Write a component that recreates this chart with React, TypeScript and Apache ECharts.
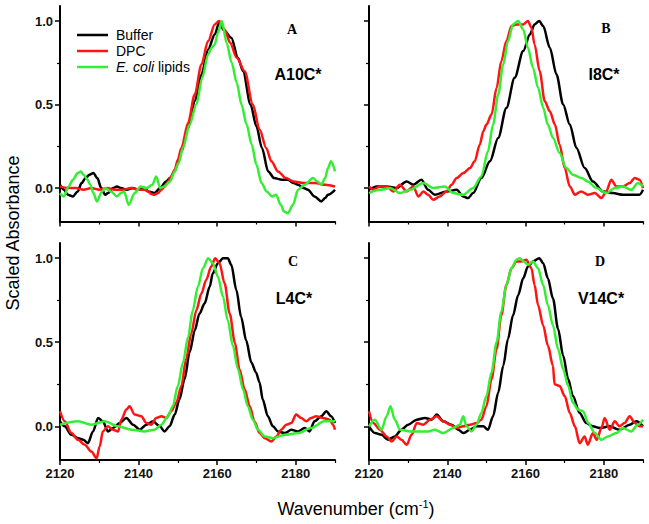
import React, { useEffect, useRef } from "react";
import * as echarts from "echarts";

// ---------- data (wavenumber, scaled absorbance) ----------
const aBuffer = [[2120,0.02],[2121,-0.01],[2122,-0.04],[2123.3,-0.05],[2124.5,-0.02],[2125.5,0.03],[2126.5,0.06],[2127.5,0.08],[2128.5,0.09],[2129.5,0.06],[2130.5,0.0],[2131.5,-0.04],[2132.2,-0.03],[2133.5,0.0],[2134.5,0.01],[2135.5,0.0],[2137,-0.01],[2138.5,0.0],[2140,-0.01],[2141.5,0.0],[2142.5,-0.02],[2144,-0.03],[2145.5,0.0],[2147,0.04],[2148,0.06],[2149.2,0.1],[2150,0.15],[2150.9,0.22],[2152.6,0.36],[2154.3,0.52],[2156,0.68],[2157.7,0.83],[2159.4,0.92],[2160.5,0.99],[2161.2,0.96],[2161.9,0.94],[2163.6,0.9],[2165.3,0.78],[2166.6,0.7],[2168.5,0.5],[2170,0.37],[2171.4,0.24],[2173,0.1],[2174.5,0.06],[2176.5,0.05],[2178,0.05],[2179.5,0.03],[2180.6,0.02],[2182,0.0],[2183.1,-0.01],[2184.8,-0.05],[2186.5,-0.08],[2187.5,-0.06],[2188.2,-0.04],[2190,-0.01]];
const aDPC = [[2120,0.01],[2122,0.0],[2124,0.0],[2126,-0.01],[2128,0.0],[2130,-0.01],[2132,0.0],[2134,-0.01],[2136,-0.01],[2138,0.0],[2140,-0.01],[2141.5,-0.01],[2142.4,-0.02],[2143.2,-0.035],[2144,-0.04],[2145,-0.03],[2145.8,-0.01],[2146.7,0.01],[2147.5,0.04],[2148.3,0.07],[2149.2,0.11],[2150,0.17],[2150.9,0.24],[2152.6,0.39],[2154.3,0.56],[2156,0.74],[2157.7,0.88],[2159.4,0.98],[2160.5,1.0],[2161.9,0.95],[2163.3,0.87],[2165,0.78],[2167,0.7],[2169.1,0.5],[2170.8,0.35],[2172.5,0.24],[2173.8,0.16],[2175.5,0.1],[2177.5,0.06],[2179.5,0.04],[2182,0.03],[2185,0.03],[2187.5,0.02],[2190,0.01]];
const aEcoli = [[2120,-0.03],[2121,-0.05],[2122.2,0.01],[2123.3,0.05],[2124.5,0.09],[2125.3,0.1],[2126,0.08],[2127,0.05],[2127.7,0.02],[2128.5,-0.03],[2129.4,-0.08],[2130.7,-0.02],[2131.5,0.0],[2133,-0.02],[2134.5,-0.05],[2135.5,-0.03],[2136.3,-0.02],[2137.5,-0.1],[2139,-0.03],[2140.5,0.01],[2142,0.0],[2143.5,0.02],[2144.5,0.07],[2145.5,0.0],[2146.5,0.01],[2148,0.04],[2149.2,0.1],[2150.2,0.15],[2151.3,0.24],[2153,0.38],[2154.7,0.5],[2156.2,0.66],[2157.7,0.8],[2158.6,0.84],[2159.4,0.86],[2160.2,0.93],[2161.2,1.0],[2162.4,0.87],[2163.7,0.75],[2165,0.63],[2166.2,0.5],[2167.5,0.38],[2168.8,0.26],[2170,0.14],[2171.3,0.03],[2172.6,-0.02],[2174,-0.05],[2175,-0.04],[2176.2,-0.1],[2177,-0.14],[2178,-0.15],[2179.3,-0.1],[2180.6,-0.01],[2182.3,0.02],[2184.4,0.06],[2185.5,0.04],[2186.5,0.02],[2187.5,0.06],[2188.2,0.12],[2189,0.16],[2190,0.1]];

const bBuffer = [[2120,-0.01],[2122,0.01],[2124.5,0.01],[2127,0.0],[2129.6,0.04],[2131.3,0.02],[2133.4,0.05],[2135.1,-0.01],[2136.8,-0.04],[2139.8,-0.02],[2142.4,-0.01],[2144.1,-0.05],[2145.3,-0.06],[2146.6,-0.03],[2148.7,0.06],[2150.9,0.16],[2153,0.3],[2155.1,0.48],[2157.2,0.66],[2159.4,0.82],[2161.1,0.92],[2162.3,0.98],[2163.5,1.0],[2164.5,0.97],[2166.2,0.84],[2167.9,0.68],[2169.6,0.5],[2171.3,0.38],[2173,0.24],[2175.1,0.12],[2177.2,0.04],[2179.8,-0.02],[2182.3,-0.03],[2184.9,-0.04],[2187.4,-0.04],[2189.1,-0.04],[2190,-0.01]];
const bDPC = [[2120,0.01],[2121.1,-0.01],[2122.8,0.01],[2124.5,0.01],[2126.2,-0.02],[2127.9,0.02],[2129.6,-0.02],[2131.3,0.01],[2132.6,-0.05],[2133.9,-0.02],[2135.1,-0.04],[2136.4,-0.07],[2138.1,-0.05],[2139.8,-0.02],[2141.1,0.02],[2142.4,0.06],[2144.1,0.09],[2145.8,0.12],[2147,0.16],[2148.3,0.26],[2149.2,0.34],[2150,0.38],[2151.3,0.44],[2152.6,0.6],[2153.8,0.76],[2155.1,0.88],[2156.4,0.97],[2157.7,0.98],[2159.4,0.98],[2160.6,1.0],[2161.5,0.96],[2162.3,0.86],[2163.6,0.7],[2164.9,0.52],[2166.2,0.46],[2167.5,0.38],[2168.7,0.26],[2170,0.12],[2171.3,0.01],[2172.6,-0.04],[2174.2,-0.02],[2175.9,-0.04],[2177.7,-0.03],[2179.4,-0.06],[2180.6,-0.02],[2181.9,0.05],[2183.2,0.01],[2184.9,0.01],[2186.6,0.03],[2187.9,0.06],[2189.1,0.05],[2190,0.0]];
const bEcoli = [[2120,-0.03],[2122.8,-0.01],[2125.4,0.0],[2127.9,-0.03],[2130.5,-0.01],[2133.9,0.03],[2136.4,0.0],[2139.4,0.01],[2141.5,-0.03],[2144.1,-0.04],[2146.6,0.0],[2148.7,0.07],[2150.4,0.22],[2151.7,0.38],[2153,0.56],[2154.3,0.74],[2155.5,0.88],[2156.8,0.98],[2158.1,1.0],[2159.4,0.95],[2160.6,0.84],[2161.9,0.72],[2163.2,0.6],[2164.5,0.48],[2165.7,0.38],[2167,0.3],[2168.7,0.21],[2170.4,0.12],[2172.1,0.08],[2174.3,0.06],[2175.9,0.04],[2178.1,0.0],[2180.6,-0.03],[2182.8,0.0],[2184.9,0.01],[2187,-0.01],[2188.7,0.03],[2190,0.01]];

const cBuffer = [[2120,0.03],[2121.2,0.0],[2122.9,-0.05],[2124.6,-0.07],[2125.9,-0.08],[2127.1,-0.1],[2128.4,-0.03],[2129.7,0.05],[2130.9,0.03],[2132.2,-0.03],[2133.5,-0.01],[2135.2,0.02],[2136.9,0.05],[2138.6,0.01],[2140.3,-0.02],[2142,0.01],[2143.7,0.03],[2145.4,0.0],[2146.6,-0.03],[2147.9,0.0],[2149.2,0.07],[2150.4,0.16],[2151.7,0.28],[2153,0.44],[2154.3,0.57],[2155.5,0.67],[2156.8,0.73],[2158.1,0.83],[2158.9,0.91],[2160.2,0.97],[2161.5,1.0],[2162.7,1.0],[2163.6,0.96],[2164.9,0.81],[2166.1,0.65],[2167.4,0.51],[2168.7,0.38],[2169.9,0.32],[2170.8,0.26],[2171.6,0.16],[2172.9,0.06],[2174.2,0.0],[2175.5,-0.03],[2177.2,-0.04],[2178.9,-0.02],[2180.6,-0.03],[2182.3,-0.01],[2183.5,-0.03],[2184.8,0.03],[2186.5,0.06],[2187.8,0.09],[2189,0.06],[2190,0.02]];
const cDPC = [[2120,0.09],[2121.2,0.03],[2122.9,-0.04],[2124.6,-0.08],[2126.3,-0.11],[2128,-0.15],[2129.3,-0.19],[2130.1,-0.12],[2130.9,-0.03],[2132.2,0.0],[2133.5,-0.02],[2134.8,-0.03],[2135.6,0.04],[2136.9,0.1],[2137.7,0.12],[2139,0.07],[2140.7,0.06],[2142,0.02],[2143.2,0.01],[2144.5,0.05],[2145.8,0.06],[2147.1,0.05],[2148.3,0.09],[2149.6,0.14],[2150.9,0.24],[2152.1,0.4],[2153.4,0.55],[2154.7,0.69],[2156,0.79],[2157.2,0.87],[2158.5,0.95],[2159.5,1.0],[2160.6,0.97],[2161.9,0.85],[2163.2,0.67],[2164.5,0.5],[2165.7,0.34],[2167,0.22],[2168.3,0.12],[2169.5,0.03],[2170.8,-0.04],[2172.1,-0.07],[2173.8,-0.09],[2175.1,-0.06],[2176.3,-0.02],[2177.6,0.01],[2178.9,0.02],[2180.1,0.07],[2181.4,0.05],[2182.7,0.03],[2183.9,0.05],[2185.2,0.06],[2186.9,0.05],[2188.6,0.04],[2189.5,0.01],[2190,-0.02]];
const cEcoli = [[2120,0.01],[2124.6,0.03],[2128,0.01],[2131.4,0.03],[2134.8,0.0],[2138.2,-0.02],[2141.5,-0.03],[2144.1,-0.02],[2145.8,0.01],[2147.5,0.06],[2148.7,0.12],[2150,0.24],[2151.3,0.38],[2152.6,0.53],[2153.8,0.69],[2155.1,0.83],[2156.4,0.94],[2157.7,1.0],[2158.9,0.97],[2160.2,0.89],[2161.5,0.77],[2162.7,0.63],[2164,0.48],[2165.3,0.34],[2166.6,0.22],[2167.8,0.12],[2169.1,0.04],[2170.4,-0.02],[2172.1,-0.06],[2174.2,-0.07],[2177.2,-0.05],[2180.6,-0.04],[2183.9,-0.01],[2187.3,0.03],[2190,0.03]];

const dBuffer = [[2120,0.0],[2121.5,-0.04],[2123.2,-0.05],[2124.9,-0.08],[2126.6,-0.06],[2128.3,-0.02],[2130,0.01],[2132.2,0.04],[2134.3,0.05],[2136,0.04],[2137.3,0.07],[2139,0.03],[2141.1,0.01],[2142.8,-0.02],[2144.1,-0.04],[2145.8,-0.02],[2147.5,0.0],[2149.2,0.0],[2150.4,-0.02],[2151.7,0.06],[2153,0.2],[2154.3,0.36],[2155.5,0.52],[2156.8,0.66],[2158.1,0.78],[2159.4,0.88],[2160.6,0.95],[2161.9,0.98],[2163.5,1.0],[2164.5,0.97],[2165.7,0.88],[2167,0.76],[2168.3,0.58],[2169.6,0.42],[2170.9,0.28],[2172.1,0.18],[2173.8,0.08],[2175.5,0.02],[2177.2,0.0],[2178.9,-0.01],[2181.5,0.0],[2184,-0.02],[2186.6,0.01],[2188.3,0.03],[2190,0.0]];
const dDPC = [[2120,0.09],[2121.1,0.02],[2122.8,-0.02],[2124.5,-0.06],[2125.8,-0.09],[2127.1,-0.06],[2128.3,-0.08],[2129.6,-0.11],[2130.9,-0.05],[2132.2,0.02],[2133.9,0.01],[2135.6,0.04],[2137.3,0.06],[2139,0.03],[2140.7,0.01],[2142.4,-0.01],[2144.1,0.0],[2145.8,0.01],[2147.5,0.02],[2148.7,0.04],[2150,0.12],[2151.3,0.28],[2152.6,0.46],[2153.8,0.66],[2155.1,0.84],[2156.4,0.94],[2157.7,0.98],[2158.9,0.98],[2160.2,0.99],[2161.5,0.94],[2162.3,0.84],[2163.2,0.72],[2164.5,0.6],[2165.7,0.48],[2167,0.36],[2167.4,0.25],[2168.7,0.24],[2170,0.18],[2171.3,0.08],[2172.6,0.0],[2173.8,-0.1],[2175.1,-0.06],[2175.9,-0.11],[2177.2,-0.04],[2178.2,-0.08],[2179.4,-0.01],[2180.2,0.05],[2181.5,-0.02],[2182.8,0.03],[2184,0.0],[2185.3,0.02],[2186.6,0.06],[2187.9,0.02],[2189.1,0.0],[2190,0.0]];
const dEcoli = [[2120,0.0],[2121.5,0.04],[2123.2,-0.02],[2124.5,0.06],[2125.5,0.12],[2126.6,0.04],[2127.9,-0.02],[2130.5,-0.03],[2133,-0.03],[2135.1,-0.03],[2136.8,-0.02],[2139,-0.04],[2141.5,-0.01],[2143.2,0.01],[2144.1,0.06],[2144.9,0.0],[2146.2,-0.03],[2147.5,0.01],[2148.7,0.08],[2150,0.18],[2151.3,0.32],[2152.6,0.5],[2153.8,0.68],[2155.1,0.84],[2156.4,0.94],[2157.7,0.99],[2158.5,1.0],[2159.5,0.98],[2160.6,0.96],[2161.9,0.98],[2163.2,0.94],[2164.5,0.84],[2165.7,0.72],[2167,0.6],[2168.3,0.46],[2169.6,0.34],[2170.9,0.24],[2172.1,0.14],[2173.4,0.1],[2174.7,0.09],[2176,0.02],[2177.7,-0.04],[2179.4,-0.08],[2181,-0.06],[2183.2,-0.04],[2184.9,-0.01],[2187,-0.03],[2188.7,0.01],[2190,0.04]];

const seriesNames = ["Buffer", "DPC", "E. coli lipids"];
const seriesColors = ["#000000", "#ff1414", "#33ee33"];
const panelLetters = ["A", "B", "C", "D"];
const panelMutants = ["A10C*", "I8C*", "L4C*", "V14C*"];
const xMajorTicks = [2120, 2140, 2160, 2180];
const xMinorTicks = [2130, 2150, 2170, 2190];
const yMajorTicks = [0, 0.5, 1.0];
const yMinorTicks = [0.25, 0.75];

const panelData = [
  [aBuffer, aDPC, aEcoli],
  [bBuffer, bDPC, bEcoli],
  [cBuffer, cDPC, cEcoli],
  [dBuffer, dDPC, dEcoli],
];

// layout
const grids = [
  { left: 60, top: 6, width: 275, height: 215.5 },
  { left: 369, top: 6, width: 274, height: 215.5 },
  { left: 60, top: 243, width: 275, height: 217 },
  { left: 369, top: 243, width: 274, height: 217 },
];
const letterPos = [[292, 29], [606, 28], [293, 261], [600, 261]];
const mutantPos = [[298, 74], [604, 74], [294, 298], [601, 298]];

const SANS = '"Liberation Sans", Arial, Helvetica, sans-serif';
const SERIF = '"Liberation Serif", "Times New Roman", serif';
// line-shaped legend icon (invisible corner points keep the 31x14 box)
const LINE_ICON = "path://M0,0 L0.01,0 M0,5.75 L31,5.75 L31,8.25 L0,8.25 Z M30.99,14 L31,14";

export default function App() {
  const ref = useRef<HTMLDivElement>(null);
  useEffect(() => {
    if (!ref.current) return;
    const chart = echarts.init(ref.current, null, { renderer: "svg" });

    const xAxis: any[] = [];
    const yAxis: any[] = [];
    const series: any[] = [];
    grids.forEach((g, i) => {
      const showX = i >= 2;
      const showY = i % 2 === 0;
      xAxis.push({
        type: "value", gridIndex: i, min: 2120, max: 2190, position: "bottom",
        axisLine: { show: true, onZero: false, lineStyle: { color: "#000", width: 2 } },
        axisTick: { show: true, customValues: xMajorTicks, length: 5, lineStyle: { color: "#000", width: 1.5 } },
        axisLabel: { show: showX, customValues: xMajorTicks, margin: 7, color: "#111", fontSize: 13, fontWeight: "bold", fontFamily: SANS, formatter: (v: number) => String(v) },
        splitLine: { show: false },
      });
      xAxis.push({
        type: "value", gridIndex: i, min: 2120, max: 2190, position: "bottom",
        axisLine: { show: false, onZero: false },
        axisTick: { show: true, customValues: xMinorTicks, length: 3, lineStyle: { color: "#000", width: 1.2 } },
        axisLabel: { show: false },
        splitLine: { show: false },
      });
      yAxis.push({
        type: "value", gridIndex: i, min: -0.2, max: 1.09, position: "left",
        axisLine: { show: true, onZero: false, lineStyle: { color: "#000", width: 2 } },
        axisTick: { show: true, customValues: yMajorTicks, length: 5, lineStyle: { color: "#000", width: 1.5 } },
        axisLabel: { show: showY, customValues: yMajorTicks, margin: 7, color: "#111", fontSize: 13, fontWeight: "bold", fontFamily: SANS, formatter: (v: number) => v.toFixed(1) },
        splitLine: { show: false },
      });
      yAxis.push({
        type: "value", gridIndex: i, min: -0.2, max: 1.09, position: "left",
        axisLine: { show: false, onZero: false },
        axisTick: { show: true, customValues: yMinorTicks, length: 3, lineStyle: { color: "#000", width: 1.2 } },
        axisLabel: { show: false },
        splitLine: { show: false },
      });
      panelData[i].forEach((d, k) => {
        series.push({
          type: "line", name: seriesNames[k], xAxisIndex: 2 * i, yAxisIndex: 2 * i,
          data: d, symbol: "none", showSymbol: false, smooth: 0.3, smoothMonotone: "x",
          lineStyle: { color: seriesColors[k], width: 2.5 },
          itemStyle: { color: seriesColors[k] },
          z: k === 0 ? 3 : k === 1 ? 4 : 5,
        });
      });
    });

    const graphic: any[] = [];
    panelLetters.forEach((t, i) => {
      graphic.push({ type: "text", x: letterPos[i][0], y: letterPos[i][1], style: { text: t, font: `bold 14px ${SERIF}`, fill: "#000", textAlign: "center", textVerticalAlign: "middle" } });
      graphic.push({ type: "text", x: mutantPos[i][0], y: mutantPos[i][1], style: { text: panelMutants[i], font: `bold 16px ${SANS}`, fill: "#000", textAlign: "center", textVerticalAlign: "middle" } });
    });
    graphic.push({ type: "text", x: 13, y: 233, rotation: Math.PI / 2, style: { text: "Scaled Absorbance", font: `18px ${SANS}`, fill: "#000", textAlign: "center", textVerticalAlign: "middle" } });
    graphic.push({
      type: "text", x: 356, y: 508,
      style: {
        text: "{m|Wavenumber (cm}{s|-1}{m|)}",
        textAlign: "center", textVerticalAlign: "middle", fill: "#000",
        rich: {
          m: { fontSize: 18, fontFamily: SANS, lineHeight: 20, verticalAlign: "bottom" },
          s: { fontSize: 11, fontFamily: SANS, lineHeight: 20, verticalAlign: "top" },
        },
      },
    });

    chart.setOption({
      animation: false,
      backgroundColor: "#fff",
      grid: grids.map((g) => ({ ...g, containLabel: false })),
      xAxis, yAxis, series, graphic,
      legend: {
        data: seriesNames.map((n) => ({ name: n, icon: LINE_ICON })),
        orient: "vertical", left: 72, top: 23,
        itemWidth: 31, itemHeight: 14, itemGap: 2,
        textStyle: { fontSize: 14, fontFamily: SANS, color: "#000", padding: [0, 0, 0, 3], rich: { i: { fontStyle: "italic", fontSize: 14, fontFamily: SANS, color: "#000" } } },
        formatter: (name: string) => (name === "E. coli lipids" ? "{i|E. coli} lipids" : name),
      },
    });
    return () => chart.dispose();
  }, []);
  return <div ref={ref} style={{ position: "fixed", left: 0, top: 0, width: 649, height: 524, background: "#fff" }} />;
}
